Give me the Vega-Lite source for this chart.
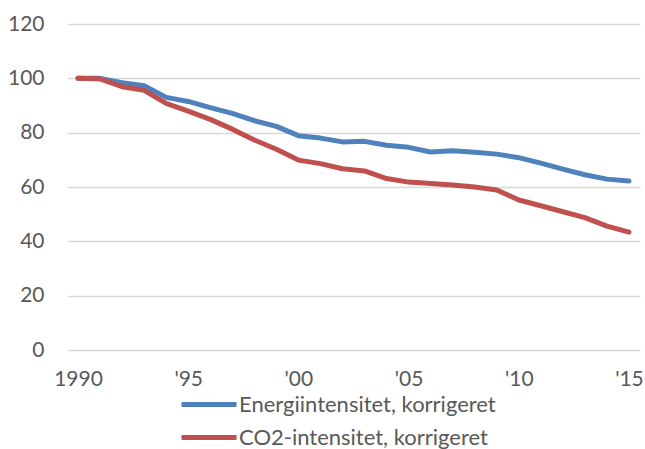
{
  "$schema": "https://vega.github.io/schema/vega-lite/v6.json",
  "width": 573,
  "height": 326,
  "autosize": {"type": "none"},
  "padding": {"left": 67, "top": 24, "right": 5, "bottom": 99},
  "background": "white",
  "config": {
    "view": {"stroke": null},
    "font": "Lato",
    "axis": {"labelColor": "#595959", "labelFontSize": 21, "labelFont": "Lato", "gridColor": "#D9D9D9", "gridWidth": 1.5, "ticks": false, "domain": false, "title": null},
    "legend": {"labelColor": "#595959", "labelFontSize": 22, "labelFont": "Lato", "labelLimit": 0}
  },
  "data": {"values": [
    {"year": 1990, "series": "Energiintensitet, korrigeret", "value": 100},
    {"year": 1991, "series": "Energiintensitet, korrigeret", "value": 100},
    {"year": 1992, "series": "Energiintensitet, korrigeret", "value": 98.4},
    {"year": 1993, "series": "Energiintensitet, korrigeret", "value": 97.3},
    {"year": 1994, "series": "Energiintensitet, korrigeret", "value": 93},
    {"year": 1995, "series": "Energiintensitet, korrigeret", "value": 91.5},
    {"year": 1996, "series": "Energiintensitet, korrigeret", "value": 89.2},
    {"year": 1997, "series": "Energiintensitet, korrigeret", "value": 87.1},
    {"year": 1998, "series": "Energiintensitet, korrigeret", "value": 84.4},
    {"year": 1999, "series": "Energiintensitet, korrigeret", "value": 82.3},
    {"year": 2000, "series": "Energiintensitet, korrigeret", "value": 78.9},
    {"year": 2001, "series": "Energiintensitet, korrigeret", "value": 78.0},
    {"year": 2002, "series": "Energiintensitet, korrigeret", "value": 76.6},
    {"year": 2003, "series": "Energiintensitet, korrigeret", "value": 76.8},
    {"year": 2004, "series": "Energiintensitet, korrigeret", "value": 75.4},
    {"year": 2005, "series": "Energiintensitet, korrigeret", "value": 74.6},
    {"year": 2006, "series": "Energiintensitet, korrigeret", "value": 72.9},
    {"year": 2007, "series": "Energiintensitet, korrigeret", "value": 73.3},
    {"year": 2008, "series": "Energiintensitet, korrigeret", "value": 72.8},
    {"year": 2009, "series": "Energiintensitet, korrigeret", "value": 72.1},
    {"year": 2010, "series": "Energiintensitet, korrigeret", "value": 70.8},
    {"year": 2011, "series": "Energiintensitet, korrigeret", "value": 68.8},
    {"year": 2012, "series": "Energiintensitet, korrigeret", "value": 66.6},
    {"year": 2013, "series": "Energiintensitet, korrigeret", "value": 64.5},
    {"year": 2014, "series": "Energiintensitet, korrigeret", "value": 62.9},
    {"year": 2015, "series": "Energiintensitet, korrigeret", "value": 62.2},
    {"year": 1990, "series": "CO2-intensitet, korrigeret", "value": 100},
    {"year": 1991, "series": "CO2-intensitet, korrigeret", "value": 99.8},
    {"year": 1992, "series": "CO2-intensitet, korrigeret", "value": 96.9},
    {"year": 1993, "series": "CO2-intensitet, korrigeret", "value": 95.6},
    {"year": 1994, "series": "CO2-intensitet, korrigeret", "value": 90.8},
    {"year": 1995, "series": "CO2-intensitet, korrigeret", "value": 87.9},
    {"year": 1996, "series": "CO2-intensitet, korrigeret", "value": 84.9},
    {"year": 1997, "series": "CO2-intensitet, korrigeret", "value": 81.3},
    {"year": 1998, "series": "CO2-intensitet, korrigeret", "value": 77.3},
    {"year": 1999, "series": "CO2-intensitet, korrigeret", "value": 73.9},
    {"year": 2000, "series": "CO2-intensitet, korrigeret", "value": 69.9},
    {"year": 2001, "series": "CO2-intensitet, korrigeret", "value": 68.6},
    {"year": 2002, "series": "CO2-intensitet, korrigeret", "value": 66.7},
    {"year": 2003, "series": "CO2-intensitet, korrigeret", "value": 65.9},
    {"year": 2004, "series": "CO2-intensitet, korrigeret", "value": 63.1},
    {"year": 2005, "series": "CO2-intensitet, korrigeret", "value": 61.8},
    {"year": 2006, "series": "CO2-intensitet, korrigeret", "value": 61.3},
    {"year": 2007, "series": "CO2-intensitet, korrigeret", "value": 60.7},
    {"year": 2008, "series": "CO2-intensitet, korrigeret", "value": 60.0},
    {"year": 2009, "series": "CO2-intensitet, korrigeret", "value": 58.9},
    {"year": 2010, "series": "CO2-intensitet, korrigeret", "value": 55.2},
    {"year": 2011, "series": "CO2-intensitet, korrigeret", "value": 53.1},
    {"year": 2012, "series": "CO2-intensitet, korrigeret", "value": 50.9},
    {"year": 2013, "series": "CO2-intensitet, korrigeret", "value": 48.7},
    {"year": 2014, "series": "CO2-intensitet, korrigeret", "value": 45.6},
    {"year": 2015, "series": "CO2-intensitet, korrigeret", "value": 43.4}
  ]},
  "mark": {"type": "line", "strokeWidth": 5, "strokeCap": "round", "strokeJoin": "round"},
  "encoding": {
    "x": {
      "field": "year", "type": "quantitative",
      "scale": {"domain": [1989.5, 2015.5], "nice": false, "zero": false},
      "axis": {"values": [1990, 1995, 2000, 2005, 2010, 2015], "grid": false, "labelPadding": 18, "labelExpr": "datum.value == 1990 ? '1990' : \"'\" + substring(toString(datum.value), 2, 4)", "labelFlush": false}
    },
    "y": {
      "field": "value", "type": "quantitative",
      "scale": {"domain": [0, 120], "nice": false},
      "axis": {"values": [0, 20, 40, 60, 80, 100, 120], "labelPadding": 23, "grid": true}
    },
    "color": {
      "field": "series", "type": "nominal",
      "scale": {"domain": ["Energiintensitet, korrigeret", "CO2-intensitet, korrigeret"], "range": ["#4F81BD", "#C0504D"]},
      "legend": {"title": null, "orient": "none", "legendX": 112, "legendY": 364, "direction": "vertical", "symbolType": "stroke", "symbolSize": 3025, "symbolStrokeWidth": 5, "rowPadding": 0, "clipHeight": 33, "labelOffset": 0}
    }
  }
}
